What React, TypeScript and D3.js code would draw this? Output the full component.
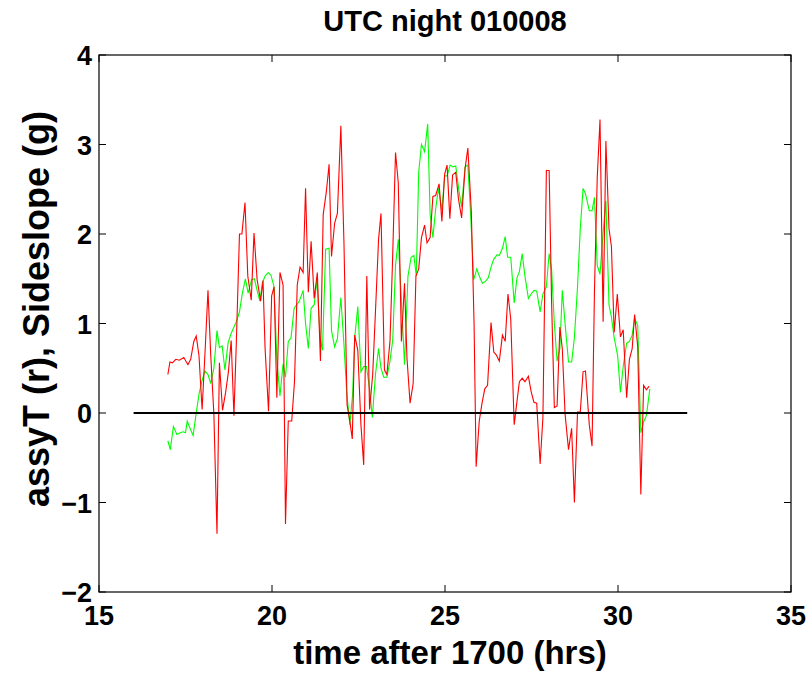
import React from "react";
import * as d3 from "d3";

const redTime = [16.99,17.05,17.12,17.22,17.32,17.45,17.57,17.65,17.74,17.81,17.89,17.98,18.07,18.15,18.23,18.32,18.41,18.48,18.57,18.66,18.74,18.82,18.90,18.97,19.06,19.13,19.22,19.30,19.40,19.48,19.57,19.67,19.74,19.80,19.90,19.99,20.06,20.14,20.23,20.32,20.39,20.47,20.57,20.65,20.73,20.81,20.90,20.97,21.05,21.13,21.22,21.31,21.40,21.48,21.57,21.65,21.72,21.81,21.89,21.99,22.08,22.17,22.25,22.32,22.39,22.48,22.57,22.65,22.74,22.82,22.91,22.99,23.08,23.15,23.25,23.32,23.41,23.48,23.57,23.65,23.74,23.83,23.90,23.99,24.08,24.16,24.24,24.32,24.41,24.48,24.57,24.65,24.73,24.83,24.91,24.99,25.06,25.14,25.22,25.31,25.39,25.48,25.58,25.66,25.76,25.84,25.90,25.99,26.07,26.15,26.23,26.33,26.41,26.48,26.57,26.66,26.74,26.82,26.90,27.00,27.08,27.15,27.23,27.31,27.41,27.49,27.57,27.65,27.75,27.83,27.93,28.01,28.08,28.16,28.24,28.32,28.39,28.47,28.57,28.66,28.74,28.83,28.91,28.99,29.06,29.17,29.25,29.32,29.40,29.48,29.57,29.65,29.74,29.81,29.89,29.98,30.07,30.15,30.25,30.33,30.41,30.48,30.57,30.66,30.74,30.82,30.90];
const redValue = [0.43,0.57,0.56,0.60,0.59,0.62,0.54,0.60,0.80,0.86,0.64,0.04,0.72,1.37,0.64,-0.01,-1.35,0.56,0.03,0.23,0.46,0.81,-0.03,0.80,2.00,2.00,2.35,1.53,1.26,2.01,1.49,1.25,1.48,0.72,0.02,1.31,1.41,0.17,1.57,1.43,-1.24,-0.09,-0.09,0.35,1.43,1.63,1.57,2.51,1.35,1.92,1.28,1.57,0.58,2.22,2.47,2.78,1.75,2.12,2.23,3.21,1.90,0.09,-0.09,-0.29,0.87,0.70,-0.13,-0.58,1.53,0.04,0.43,1.13,1.94,2.23,0.48,0.43,0.80,1.65,2.91,2.57,0.80,1.45,0.62,0.11,0.33,1.53,1.61,1.96,2.10,1.90,1.96,2.42,2.43,2.56,2.14,2.67,2.77,2.17,2.66,2.69,2.39,2.18,2.73,2.96,2.26,1.00,-0.60,-0.09,0.11,0.27,0.31,1.01,0.68,0.65,0.58,0.87,0.80,1.33,1.05,-0.13,0.13,0.35,0.39,0.35,0.41,0.24,0.12,0.11,-0.57,-0.05,2.71,2.71,1.25,0.06,0.08,0.96,0.72,-0.01,-0.41,-0.17,-1.00,0.01,0.01,0.46,0.47,-0.13,-0.37,1.37,2.63,3.28,1.02,3.04,2.06,1.86,0.90,1.33,0.85,0.93,0.17,0.60,0.72,1.10,0.74,-0.91,0.31,0.26,0.30];

const greenTime = [16.99,17.06,17.15,17.25,17.35,17.43,17.50,17.55,17.63,17.72,17.81,17.89,17.97,18.06,18.15,18.23,18.32,18.41,18.48,18.56,18.64,18.73,18.81,18.90,18.97,19.06,19.14,19.23,19.31,19.41,19.49,19.57,19.65,19.72,19.80,19.89,19.97,20.06,20.14,20.23,20.32,20.39,20.47,20.55,20.64,20.72,20.79,20.90,20.97,21.05,21.13,21.22,21.30,21.39,21.46,21.55,21.65,21.72,21.81,21.89,21.99,22.08,22.16,22.25,22.33,22.39,22.48,22.57,22.65,22.73,22.82,22.90,22.99,23.08,23.15,23.23,23.32,23.41,23.49,23.57,23.65,23.74,23.83,23.93,24.02,24.10,24.17,24.24,24.32,24.41,24.50,24.57,24.65,24.73,24.81,24.91,24.99,25.06,25.15,25.23,25.31,25.40,25.48,25.58,25.66,25.74,25.83,25.92,25.99,26.08,26.17,26.25,26.33,26.41,26.51,26.57,26.66,26.74,26.81,26.90,27.00,27.08,27.15,27.23,27.31,27.41,27.49,27.57,27.65,27.75,27.83,27.93,28.01,28.08,28.16,28.24,28.32,28.39,28.47,28.57,28.66,28.74,28.83,28.91,28.99,29.06,29.17,29.25,29.32,29.40,29.48,29.57,29.65,29.74,29.81,29.89,29.99,30.07,30.15,30.25,30.33,30.41,30.48,30.57,30.66,30.74,30.82,30.92];
const greenValue = [-0.31,-0.41,-0.15,-0.24,-0.22,-0.21,-0.22,-0.09,-0.17,-0.25,0.00,0.21,0.35,0.47,0.43,0.33,0.50,0.92,0.73,0.75,0.48,0.78,0.88,0.96,1.02,1.13,1.33,1.50,1.34,1.49,1.50,1.37,1.25,1.45,1.53,1.57,1.54,1.41,0.60,0.19,0.55,0.40,0.80,0.84,1.17,1.21,1.25,1.37,1.00,0.72,1.17,1.21,1.49,0.84,0.70,1.83,1.84,0.92,0.74,0.83,1.29,0.76,0.23,-0.13,0.21,0.84,1.19,0.46,0.52,0.52,0.27,-0.05,0.43,0.72,0.50,0.40,0.40,0.58,0.82,1.65,1.94,1.25,0.54,1.53,1.74,1.76,1.53,2.69,3.00,2.92,3.23,2.22,1.96,2.28,2.51,2.26,2.65,2.65,2.77,2.75,2.76,2.49,2.30,2.75,2.77,2.22,1.49,1.61,1.53,1.45,1.47,1.51,1.63,1.72,1.77,1.76,1.84,1.97,1.74,1.74,1.23,1.51,1.58,1.78,1.53,1.28,1.33,1.37,1.36,1.13,1.33,1.41,1.78,1.61,1.00,0.58,0.72,1.37,1.00,0.57,0.57,0.84,1.41,2.06,2.51,2.45,2.26,2.26,2.41,1.65,1.55,2.02,2.37,1.21,1.07,0.84,0.64,0.23,0.52,0.78,0.80,0.87,1.06,0.98,-0.22,-0.10,-0.03,0.27];

const zeroLineTime = [16, 32];
const xTicks = [15, 20, 25, 30, 35];
const yTicks = [-2, -1, 0, 1, 2, 3, 4];
const titleText = "UTC night 010008";
const xLabelText = "time after 1700 (hrs)";
const yLabelText = "assyT (r), Sideslope (g)";

const W = 809, H = 673;
const M = { left: 99, right: 791, top: 55, bottom: 592 };
const FONT = "'Liberation Sans', Arial, Helvetica, sans-serif";

export default function App() {
  const x = d3.scaleLinear().domain([15, 35]).range([M.left, M.right]);
  const y = d3.scaleLinear().domain([-2, 4]).range([M.bottom, M.top]);
  const red = d3.line<number>().x((_, i) => x(redTime[i])).y((d) => y(d));
  const green = d3.line<number>().x((_, i) => x(greenTime[i])).y((d) => y(d));
  const fmt = (v: number) => (v < 0 ? "\u2212" + Math.abs(v) : String(v));
  const tl = 7;
  return (
    <svg width={W} height={H} style={{ position: "absolute", left: 0, top: 0, background: "#fff" }}>
      <rect x={0} y={0} width={W} height={H} fill="#fff" />
      <path d={green(greenValue) || ""} fill="none" stroke="#00ff00" strokeWidth={1.1} />
      <path d={red(redValue) || ""} fill="none" stroke="#ff0000" strokeWidth={1.1} />
      <line x1={x(zeroLineTime[0])} x2={x(zeroLineTime[1])} y1={y(0)} y2={y(0)} stroke="#000" strokeWidth={2.2} />
      <rect x={M.left} y={M.top} width={M.right - M.left} height={M.bottom - M.top} fill="none" stroke="#000" strokeWidth={1.2} />
      {xTicks.map((t) => (
        <g key={"x" + t}>
          <line x1={x(t)} x2={x(t)} y1={M.bottom} y2={M.bottom - tl} stroke="#000" />
          <line x1={x(t)} x2={x(t)} y1={M.top} y2={M.top + tl} stroke="#000" />
          <text x={x(t)} y={M.bottom + 33} textAnchor="middle" fontFamily={FONT} fontWeight="bold" fontSize={27}>{fmt(t)}</text>
        </g>
      ))}
      {yTicks.map((t) => (
        <g key={"y" + t}>
          <line x1={M.left} x2={M.left + tl} y1={y(t)} y2={y(t)} stroke="#000" />
          <line x1={M.right} x2={M.right - tl} y1={y(t)} y2={y(t)} stroke="#000" />
          <text x={M.left - 7} y={y(t) + 10} textAnchor="end" fontFamily={FONT} fontWeight="bold" fontSize={27}>{fmt(t)}</text>
        </g>
      ))}
      <text x={(M.left + M.right) / 2} y={31} textAnchor="middle" fontFamily={FONT} fontWeight="bold" fontSize={29}>{titleText}</text>
      <text x={(M.left + M.right) / 2 + 5} y={664} textAnchor="middle" fontFamily={FONT} fontWeight="bold" fontSize={33}>{xLabelText}</text>
      <text transform={`translate(49,309) rotate(-90)`} textAnchor="middle" fontFamily={FONT} fontWeight="bold" fontSize={36}>{yLabelText}</text>
    </svg>
  );
}
